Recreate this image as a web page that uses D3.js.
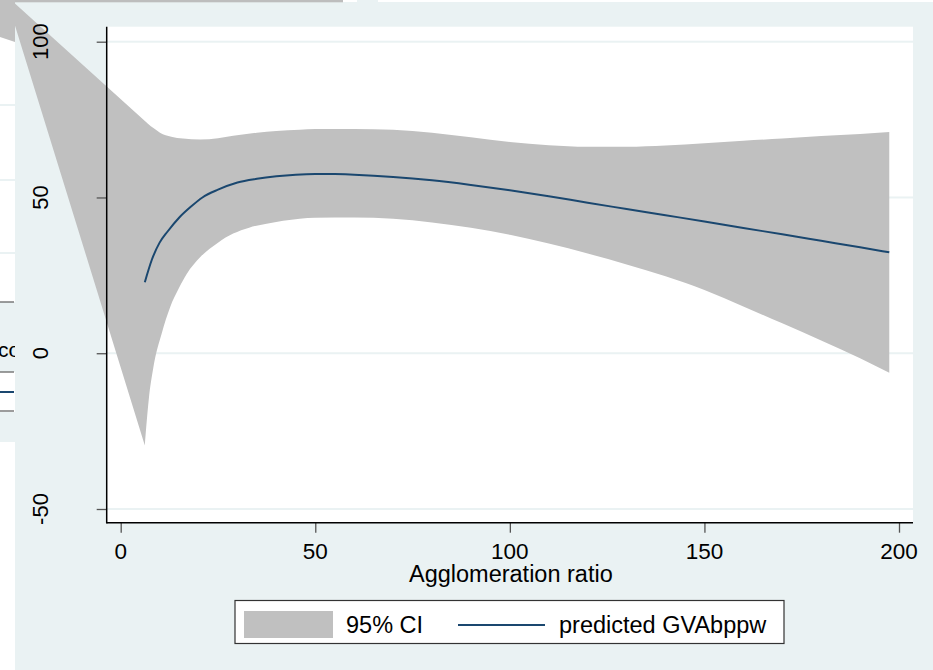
<!DOCTYPE html>
<html>
<head>
<meta charset="utf-8">
<script src="https://cdn.jsdelivr.net/npm/d3@7"></script>
<style>
  html, body { margin: 0; padding: 0; background: #ffffff; }
  svg { display: block; }
  text { font-family: "Liberation Sans", Arial, Helvetica, sans-serif; fill: #000; }
</style>
</head>
<body>
<svg id="chart" width="933" height="670"></svg>
<script>
// ---------------- data ----------------
const xTicks = [0, 50, 100, 150, 200];
const yTicks = [-50, 0, 50, 100];
const xTitle = "Agglomeration ratio";
const legendLabels = ["95% CI", "predicted GVAbppw"];

// predicted GVAbppw
const lineX = [6.2, 8, 10, 12, 15, 18, 21, 25, 30, 35, 40, 45, 50, 55, 60, 70, 80, 90, 100, 110, 120, 130, 140, 150, 160, 170, 180, 190, 197.5];
const lineY = [22.8, 30, 35.5, 39, 43.5, 47, 50, 52.5, 54.8, 56, 56.8, 57.3, 57.5, 57.5, 57.3, 56.6, 55.5, 54, 52.3, 50.4, 48.3, 46.3, 44.3, 42.3, 40.2, 38.2, 36.1, 34, 32.4];

// 95% CI upper edge (starts at the band's left tip)
const upperX = [-29.6, 7.0, 8.5, 10.1, 13, 16, 20.4, 25, 28.9, 35, 40, 46, 50, 60, 70, 80, 90, 100, 110, 120, 130, 140, 150, 160, 170, 180, 190, 197.5];
const upperY = [115, 73.7, 72.2, 70.8, 69.5, 68.9, 68.6, 69.0, 69.8, 70.8, 71.3, 71.7, 72.0, 72.0, 71.7, 70.8, 69.3, 67.8, 66.8, 66.3, 66.3, 66.7, 67.4, 68.2, 68.9, 69.7, 70.4, 71.0];
// 95% CI lower edge (starts at the band's left tip)
const lowerX = [-29.6, 6.2, 7.2, 8.4, 10.5, 12.7, 15, 17, 20.4, 25, 28.9, 33, 37.5, 46, 50, 60, 70, 80, 90, 100, 110, 120, 130, 140, 150, 160, 170, 180, 190, 197.5];
const lowerY = [115, -29.6, -15, -4.5, 6.2, 14.8, 21, 25.5, 30.8, 35.5, 38.4, 40.3, 41.6, 43.2, 43.5, 43.6, 43.2, 42, 40.3, 38, 35.2, 32, 28.5, 24.7, 20.3, 15.0, 9.6, 4.1, -1.6, -6.3];

// ---------------- styles ----------------
const BG = "#eaf2f3";
const BAND = "#c0c0c0";
const NAVY = "#1a476f";

const svg = d3.select("#chart");

// background layers (window remnants)
svg.append("rect").attr("x", 0).attr("y", 0).attr("width", 933).attr("height", 670).attr("fill", "#ffffff");
svg.append("rect").attr("x", 15).attr("y", 2).attr("width", 918).attr("height", 668).attr("fill", BG);
svg.append("rect").attr("x", 0).attr("y", 0).attr("width", 343).attr("height", 2.3).attr("fill", "#bdbdbd");
svg.append("rect").attr("x", 357).attr("y", 0).attr("width", 21).attr("height", 2.3).attr("fill", BG);

// left strip: partially hidden window behind
const strip = svg.append("g");
strip.append("path").attr("d", "M0,0 L15,0 L15,42 L0,37 Z").attr("fill", BAND);
[105, 180, 253].forEach(v => strip.append("rect").attr("x", 0).attr("y", v - 1).attr("width", 15).attr("height", 2).attr("fill", BG));
strip.append("rect").attr("x", 0).attr("y", 302).attr("width", 15).attr("height", 70).attr("fill", BG);
strip.append("rect").attr("x", 0).attr("y", 412).attr("width", 15).attr("height", 30).attr("fill", BG);
strip.append("line").attr("x1", 0).attr("x2", 14).attr("y1", 302).attr("y2", 302).attr("stroke", "#666").attr("stroke-width", 1.3);
strip.append("line").attr("x1", 0).attr("x2", 14).attr("y1", 372).attr("y2", 372).attr("stroke", "#666").attr("stroke-width", 1.3);
strip.append("line").attr("x1", 0).attr("x2", 14).attr("y1", 411).attr("y2", 411).attr("stroke", "#666").attr("stroke-width", 1.3);
strip.append("line").attr("x1", 0).attr("x2", 14).attr("y1", 392).attr("y2", 392).attr("stroke", NAVY).attr("stroke-width", 2);
svg.append("clipPath").attr("id", "stripClip").append("rect").attr("x", 0).attr("y", 0).attr("width", 15).attr("height", 670);
strip.append("text").attr("clip-path", "url(#stripClip)").attr("x", -2).attr("y", 357).attr("font-size", 21).text("co");

// ---------------- scales ----------------
const x = d3.scaleLinear().domain([0, 200]).range([120.7, 899]);
const y = d3.scaleLinear().domain([-50, 100]).range([509, 41.7]);
const plotL = 106.7, plotR = 913, plotT = 26.7, plotB = 522.7;

// plot region
svg.append("rect").attr("x", plotL).attr("y", plotT).attr("width", plotR - plotL).attr("height", plotB - plotT).attr("fill", "#ffffff");

// gridlines
svg.append("g").selectAll("rect").data(yTicks).join("rect")
  .attr("x", plotL).attr("width", plotR - plotL)
  .attr("y", d => y(d) - 1).attr("height", 2).attr("fill", BG);

// band (not clipped – it bleeds past the plot region)
const upPts = upperX.map((v, i) => [x(v), y(upperY[i])]);
const loPts = lowerX.map((v, i) => [x(v), y(lowerY[i])]);
const smooth = d3.line().curve(d3.curveMonotoneX);
// upper: straight from tip, then smooth
const upPath = "M" + upPts[0] + smooth(upPts.slice(1)).replace(/^M/, "L");
// lower (reversed): smooth from right end to spike, then straight to tip
const loRev = loPts.slice(1).reverse();
const loPath = smooth(loRev).replace(/^M/, "L") + "L" + loPts[0];
svg.append("path").attr("d", upPath + loPath + "Z").attr("fill", BAND);

// fitted line
svg.append("path")
  .attr("d", d3.line().x((d, i) => x(lineX[i])).y((d, i) => y(lineY[i])).curve(d3.curveMonotoneX)(lineX))
  .attr("fill", "none").attr("stroke", NAVY).attr("stroke-width", 2);

// axes
const yAxis = d3.axisLeft(y).tickValues(yTicks).tickSize(10).tickFormat("");
const gy = svg.append("g").attr("transform", `translate(${plotL},0)`).call(yAxis);
gy.select(".domain").remove();
gy.selectAll(".tick line").attr("stroke", "#555").attr("stroke-width", 1.3);

const xAxis = d3.axisBottom(x).tickValues(xTicks).tickSize(10).tickFormat("");
const gx = svg.append("g").attr("transform", `translate(0,${plotB})`).call(xAxis);
gx.select(".domain").remove();
gx.selectAll(".tick line").attr("stroke", "#555").attr("stroke-width", 1.3);

svg.append("line").attr("x1", plotL).attr("x2", plotL).attr("y1", plotT).attr("y2", plotB + 0.7).attr("stroke", "#000").attr("stroke-width", 1.5);
svg.append("line").attr("x1", plotL).attr("x2", plotR).attr("y1", plotB).attr("y2", plotB).attr("stroke", "#000").attr("stroke-width", 1.5);

// tick labels
svg.append("g").selectAll("text").data(yTicks).join("text")
  .attr("transform", d => `translate(48,${y(d)}) rotate(-90)`)
  .attr("text-anchor", "middle").attr("font-size", 22).text(d => d);
svg.append("g").selectAll("text").data(xTicks).join("text")
  .attr("x", d => x(d)).attr("y", 559)
  .attr("text-anchor", "middle").attr("font-size", 22.5).text(d => d);

// axis title
svg.append("text").attr("x", x(100) + 1).attr("y", 582)
  .attr("text-anchor", "middle").attr("font-size", 23.5).text(xTitle);

// legend
const lg = svg.append("g");
lg.append("rect").attr("x", 235).attr("y", 600.5).attr("width", 549).attr("height", 43)
  .attr("fill", "#fff").attr("stroke", "#333").attr("stroke-width", 1.2);
lg.append("rect").attr("x", 244).attr("y", 611).attr("width", 89).attr("height", 27).attr("fill", BAND);
lg.append("text").attr("x", 346).attr("y", 633).attr("font-size", 23.5).text(legendLabels[0]);
lg.append("line").attr("x1", 458).attr("x2", 545).attr("y1", 625).attr("y2", 625).attr("stroke", NAVY).attr("stroke-width", 2);
lg.append("text").attr("x", 559).attr("y", 633).attr("font-size", 23.5).text(legendLabels[1]);
</script>
</body>
</html>
